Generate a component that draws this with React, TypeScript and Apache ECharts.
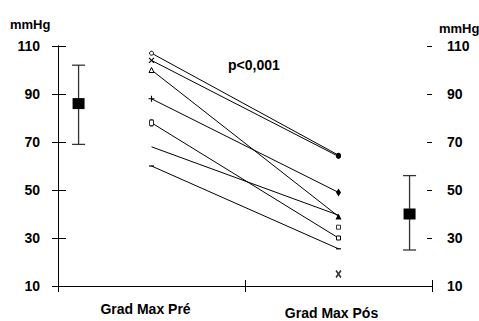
import React, { useEffect, useRef } from "react";
import * as echarts from "echarts";

// ---- data ----
const yTicks = [10, 30, 50, 70, 90, 110];
const groupLabels = ["Grad Max Pré", "Grad Max Pós"];
const groupX = [25, 75];
const preValues = [107, 104, 100, 88, 78, 68, 60];
const postValues = [64.5, 64, 39, 49, 30, 39.5, 25.5];
const preMarks = ["oCircle", "x", "oTriangle", "plus", "oRoundRect", "none", "dash"];
const postMarks = ["fCircle", "fCircle", "fTriangle", "fDiamond", "oRect", "none", "dash"];
const unpairedPost = [34.5, 15];
const unpairedMarks = ["oRectSmall", "boldX"];
const summaryX = [5.5, 94];
const summaryMean = [86, 40];
const summaryLow = [69, 25];
const summaryHigh = [102, 56];
const pText = "p<0,001";
const unitLabel = "mmHg";

const FONT = "'Liberation Sans', Arial, sans-serif";

const X_PATH = "path://M0,0L10,10M10,0L0,10";
const PLUS_PATH = "path://M5,0L5,10M0,5L10,5";

function markStyle(kind: string) {
  const hollow = { color: "#fff", borderColor: "#000", borderWidth: 1 };
  const filled = { color: "#000", borderColor: "#000", borderWidth: 0 };
  switch (kind) {
    case "oCircle":
      return { symbol: "circle", symbolSize: 4, itemStyle: hollow };
    case "x":
      return { symbol: X_PATH, symbolSize: 5, itemStyle: { ...hollow, borderWidth: 1.1 } };
    case "oTriangle":
      return { symbol: "triangle", symbolSize: 5, itemStyle: hollow };
    case "plus":
      return { symbol: PLUS_PATH, symbolSize: 6, itemStyle: { ...hollow, borderWidth: 1.1 } };
    case "oRoundRect":
      return { symbol: "roundRect", symbolSize: [4, 6], itemStyle: hollow };
    case "dash":
      return { symbol: "rect", symbolSize: [5, 1.2], itemStyle: filled };
    case "fCircle":
      return { symbol: "circle", symbolSize: 5, itemStyle: filled };
    case "fTriangle":
      return { symbol: "triangle", symbolSize: 6, itemStyle: filled };
    case "fDiamond":
      return { symbol: "diamond", symbolSize: [5, 8], itemStyle: filled };
    case "oRect":
      return { symbol: "rect", symbolSize: [4, 4], itemStyle: hollow };
    case "oRectSmall":
      return { symbol: "rect", symbolSize: [4, 4], itemStyle: hollow };
    case "boldX":
      return { symbol: X_PATH, symbolSize: [5, 7], itemStyle: { ...hollow, borderWidth: 1.6 } };
    default:
      return { symbol: "none", symbolSize: 0, itemStyle: hollow };
  }
}

export default function App() {
  const ref = useRef<HTMLDivElement>(null);

  useEffect(() => {
    if (!ref.current) return;
    const chart = echarts.init(ref.current, undefined, { renderer: "svg" });

    const lineSeries = preValues.map((pre, i) => ({
      type: "line",
      xAxisIndex: 0,
      yAxisIndex: 0,
      showSymbol: true,
      lineStyle: { color: "#000", width: 1 },
      z: 3,
      data: [
        { value: [groupX[0], pre], ...markStyle(preMarks[i]) },
        { value: [groupX[1], postValues[i]], ...markStyle(postMarks[i]) },
      ],
    }));

    const unpairedSeries = {
      type: "scatter",
      xAxisIndex: 0,
      yAxisIndex: 0,
      z: 4,
      data: unpairedPost.map((v, i) => ({ value: [groupX[1], v], ...markStyle(unpairedMarks[i]) })),
    };

    const summarySeries = {
      type: "custom",
      xAxisIndex: 0,
      yAxisIndex: 0,
      z: 5,
      data: summaryX.map((x, i) => [x, summaryLow[i], summaryHigh[i], summaryMean[i]]),
      encode: { x: 0, y: [1, 2, 3] },
      renderItem: (params: any, api: any) => {
        const x = api.value(0);
        const lo = api.coord([x, api.value(1)]);
        const hi = api.coord([x, api.value(2)]);
        const m = api.coord([x, api.value(3)]);
        const cap = 6.5;
        const st = { stroke: "#333", lineWidth: 1.3 };
        return {
          type: "group",
          children: [
            { type: "line", shape: { x1: lo[0], y1: lo[1], x2: hi[0], y2: hi[1] }, style: st },
            { type: "line", shape: { x1: hi[0] - cap, y1: hi[1], x2: hi[0] + cap, y2: hi[1] }, style: st },
            { type: "line", shape: { x1: lo[0] - cap, y1: lo[1], x2: lo[0] + cap, y2: lo[1] }, style: st },
            { type: "rect", shape: { x: m[0] - 6, y: m[1] - 5.5, width: 12, height: 11 }, style: { fill: "#000" } },
          ],
        };
      },
    };

    const yBase = {
      type: "value",
      min: yTicks[0],
      max: yTicks[yTicks.length - 1],
      interval: 20,
      splitLine: { show: false },
    };
    const labelStyle = { color: "#000", fontFamily: FONT, fontWeight: "bold", fontSize: 14 };

    const option: any = {
      animation: false,
      backgroundColor: "#fff",
      grid: { left: 58, right: 47, top: 46, bottom: 35, outerBoundsMode: "none" },
      xAxis: [
        {
          type: "value",
          min: 0,
          max: 100,
          interval: 50,
          position: "bottom",
          axisLine: { show: true, lineStyle: { color: "#000", width: 1 } },
          axisTick: { show: true, length: 6, lineStyle: { color: "#000", width: 1 } },
          axisLabel: { show: false },
          splitLine: { show: false },
        },
        {
          type: "value",
          min: 0,
          max: 100,
          interval: 50,
          position: "bottom",
          axisLine: { show: false },
          axisTick: { show: true, inside: true, length: 6, lineStyle: { color: "#000", width: 1 } },
          axisLabel: { show: false },
          splitLine: { show: false },
        },
        {
          type: "value",
          min: 0,
          max: 100,
          interval: 25,
          position: "bottom",
          axisLine: { show: false },
          axisTick: { show: false },
          splitLine: { show: false },
          axisLabel: {
            show: true,
            margin: 16,
            formatter: (v: number) =>
              v === groupX[0] ? `{a|${groupLabels[0]}}` : v === groupX[1] ? `{b|${groupLabels[1]}}` : "",
            rich: {
              a: { ...labelStyle, padding: [0, 12, 0, 0] },
              b: { ...labelStyle, padding: [4, 14, 0, 0] },
            },
          },
        },
      ],
      yAxis: [
        {
          ...yBase,
          position: "left",
          axisLine: { show: true, lineStyle: { color: "#000", width: 1 } },
          axisTick: { show: true, length: 6, lineStyle: { color: "#000", width: 1 } },
          axisLabel: { ...labelStyle, margin: 18 },
        },
        {
          ...yBase,
          position: "right",
          axisLine: { show: true, lineStyle: { color: "#000", width: 1 } },
          axisTick: { show: true, length: 6, lineStyle: { color: "#000", width: 1 } },
          axisLabel: { ...labelStyle, margin: 15 },
        },
        {
          ...yBase,
          position: "left",
          axisLine: { show: false },
          axisTick: { show: true, inside: true, length: 8, lineStyle: { color: "#000", width: 1 } },
          axisLabel: { show: false },
        },
        {
          ...yBase,
          position: "right",
          axisLine: { show: false },
          axisTick: { show: true, inside: true, length: 5, lineStyle: { color: "#000", width: 1 } },
          axisLabel: { show: false },
        },
      ],
      graphic: [
        {
          type: "text",
          left: 228,
          top: 58,
          style: { text: pText, fill: "#000", font: `bold 14px ${FONT}` },
        },
        {
          type: "text",
          left: 10,
          top: 18,
          style: { text: unitLabel, fill: "#000", font: `bold 13px ${FONT}` },
        },
        {
          type: "text",
          left: 439,
          top: 22,
          style: { text: unitLabel, fill: "#000", font: `bold 13px ${FONT}` },
        },
      ],
      series: [...lineSeries, unpairedSeries, summarySeries],
    };

    chart.setOption(option);
    return () => chart.dispose();
  }, []);

  return (
    <div
      ref={ref}
      style={{ position: "fixed", left: 0, top: 0, width: 479, height: 321, background: "#fff" }}
    />
  );
}
